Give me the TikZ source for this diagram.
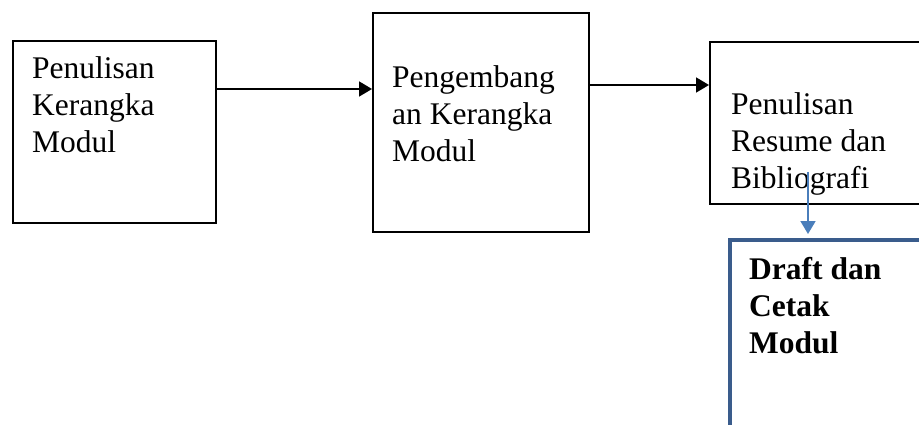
\documentclass[tikz,border=0pt]{standalone}
\usepackage{fontspec}
\setmainfont{Liberation Serif}
\usetikzlibrary{arrows.meta}
\definecolor{boxblue}{RGB}{58,92,140}
\definecolor{arrowblue}{RGB}{74,126,187}

\begin{document}
\begin{tikzpicture}[x=1pt,y=-1pt,
	box/.style={draw,line width=1.8pt,inner sep=0pt,anchor=north west},
	boxtext/.style={anchor=base west,align=left,inner sep=0pt,font=\fontsize{31.5}{37}\selectfont},
	arr/.style={-{Triangle[length=13pt,width=15pt]},line width=1.8pt},
	bluearr/.style={-{Triangle[length=13pt,width=15pt]},line width=1.8pt,draw=arrowblue,color=arrowblue}]
	\useasboundingbox (0,0) rectangle (919,425);
	\clip (0,0) rectangle (919,425);
	\node[box,minimum width=203pt,minimum height=182pt] (kerangka) at (12,40) {};
	\node[box,minimum width=216pt,minimum height=219pt] (pengembangan) at (372,12) {};
	\node[box,minimum width=240pt,minimum height=162pt] (resume) at (709,41) {};
	\node[box,draw=boxblue,line width=4pt,minimum width=240pt,minimum height=220pt] (draft) at (728,238) {};
	\node[boxtext] (kerangkatext) at (32,153) {Penulisan\\Kerangka\\Modul};
	\node[boxtext] (pengembangantext) at (392,162) {Pengembang\\an Kerangka\\Modul};
	\node[boxtext] (resumetext) at (731,189) {Penulisan\\Resume dan\\Bibliografi};
	\node[boxtext,font=\fontsize{31.5}{37}\selectfont\bfseries] (drafttext) at (749,353) {Draft dan\\Cetak\\Modul};
	\coordinate (start) at (808,172);
	\draw[arr] ([yshift=-49pt]kerangka.north east) -- ([yshift=-77pt]pengembangan.north west);
	\draw[arr] ([yshift=-73pt]pengembangan.north east) -- ([yshift=-44pt]resume.north west);
	\draw[bluearr,shorten >=4pt] (start) -- (start |- draft.north);
\end{tikzpicture}
\end{document}
